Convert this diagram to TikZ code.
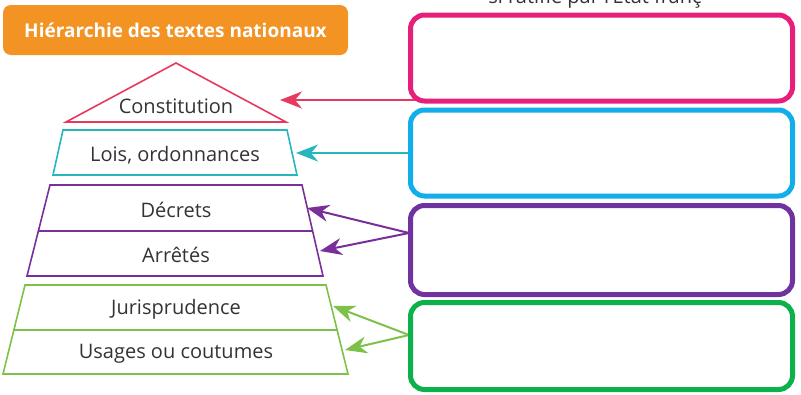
\documentclass[tikz,border=0pt]{standalone}
\usepackage{fontspec}
\setmainfont{Open Sans}
\usetikzlibrary{arrows.meta}
\definecolor{orangeT}{HTML}{F39324}
\definecolor{roseC}{HTML}{E8395C}
\definecolor{turquoise}{HTML}{27B6BF}
\definecolor{violet}{HTML}{7A2E9A}
\definecolor{vertC}{HTML}{7CC24A}
\definecolor{roseB}{HTML}{E61F7A}
\definecolor{bleuB}{HTML}{11AEEA}
\definecolor{violetB}{HTML}{6F329E}
\definecolor{vertB}{HTML}{0DB14B}
\definecolor{gristexte}{HTML}{333333}
\begin{document}
\begin{tikzpicture}[x=1pt, y=-1pt, font=\fontsize{20}{23}\selectfont,
  etage/.style={line width=1.6pt, line join=miter},
  fleche/.style={line width=2pt, -{Stealth[length=22pt, width=17pt, inset=7pt]}},
  cadre/.style={fill=white, line width=5pt, rounded corners=14pt,
    minimum width=382pt, minimum height=86pt}]
  \useasboundingbox (0,0) rectangle (801,394);
  \clip (0,0) rectangle (801,394);
  % titre
  \node[fill=orangeT, rounded corners=8pt, minimum width=345pt, minimum height=50pt,
    text=white, font=\fontsize{19}{23}\selectfont\bfseries] (titre) at (175.5,30)
    {Hiérarchie des textes nationaux};
  \node[anchor=base, text=gristexte] (haut) at (595,3) {si ratifié par l'État franç};
  % pyramide
  \coordinate (A) at (66,122); \coordinate (B) at (286,122); \coordinate (C) at (176,63);
  \draw[etage, roseC] (A) -- (C) -- (B) -- cycle;
  \draw[etage, turquoise] (63,130) -- (287,130) -- (297,175) -- (53,175) -- cycle;
  \draw[etage, violet] (50,185) -- (302,185) -- (323,276) -- (27,276) -- cycle;
  \draw[etage, violet] (39,231) -- (312,231);
  \draw[etage, vertC] (25,285) -- (326,285) -- (348,374) -- (3,374) -- cycle;
  \draw[etage, vertC] (13,330) -- (337,330);
  \node[text=gristexte] (constitution) at (176,106) {Constitution};
  \node[text=gristexte] (lois) at (175,155) {Lois, ordonnances};
  \node[text=gristexte] (decrets) at (176,210) {Décrets};
  \node[text=gristexte] (arretes) at (176,255) {Arrêtés};
  \node[text=gristexte] (juris) at (176,309) {Jurisprudence};
  \node[text=gristexte] (usages) at (176,354) {Usages ou coutumes};
  % fleches
  \coordinate (pC) at (280,100);  \coordinate (dC) at (430,100);
  \coordinate (pL) at (296,153);  \coordinate (dL) at (412,153);
  \coordinate (pD) at (307,208);  \coordinate (pA) at (320,251);  \coordinate (dV) at (409,233);
  \coordinate (pJ) at (333,306);  \coordinate (pU) at (345,350);  \coordinate (dJ) at (409,335);
  \draw[fleche, roseC] (dC) -- (pC);
  \draw[fleche, turquoise] (dL) -- (pL);
  \draw[fleche, violet] (dV) -- (pD);
  \draw[fleche, violet] (dV) -- (pA);
  \draw[fleche, vertC] (dJ) -- (pJ);
  \draw[fleche, vertC] (dJ) -- (pU);
  % cadres vides
  \node[cadre, draw=roseB] (cadreRose) at (601.5,58) {};
  \node[cadre, draw=bleuB] (cadreBleu) at (601.5,153) {};
  \node[cadre, draw=violetB, minimum height=89pt] (cadreViolet) at (601.5,250) {};
  \node[cadre, draw=vertB, minimum height=87pt] (cadreVert) at (601.5,346) {};
\end{tikzpicture}
\end{document}
